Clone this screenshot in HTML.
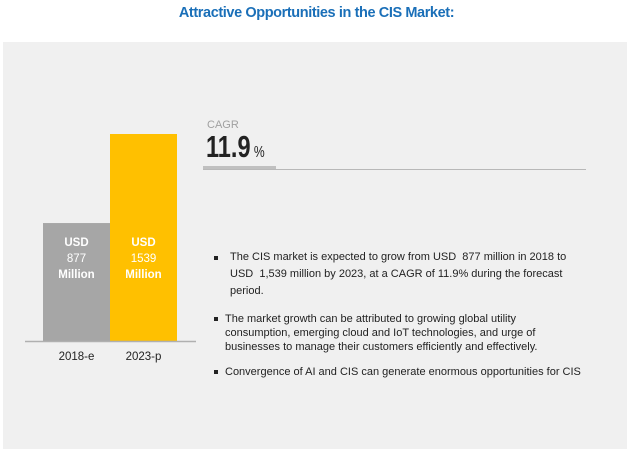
<!DOCTYPE html>
<html><head><meta charset="utf-8"><style>
body{margin:0;width:633px;height:454px;background:#fff;position:relative;overflow:hidden;font-family:"Liberation Sans",sans-serif}
.abs{position:absolute}
#panel{left:3px;top:42px;width:624px;height:407px;background:#f0f0f0}
#title{left:0;width:633px;top:5px;text-align:center;color:#1a6fb8;font-weight:bold;font-size:14.5px;letter-spacing:-0.4px}
.bl{position:absolute;font-size:11px;color:#222;line-height:17px}
.bl2{line-height:14px}
.sq{position:absolute;width:4px;height:4px;background:#222}
</style></head><body>
<div id="title" class="abs">Attractive Opportunities in the CIS Market:</div>
<div id="panel" class="abs"></div>
<svg class="abs" style="left:0;top:0" width="633" height="454" id="chart"></svg>
<div class="abs" style="left:207px;top:120px;font-size:11px;line-height:11px;color:#a0a0a0">CAGR</div>
<div class="abs" style="left:206px;top:131px;font-size:31px;line-height:31px;color:#222;font-weight:bold;transform:scaleX(0.76);transform-origin:left top;white-space:nowrap">11.9<span style="font-size:16px;font-weight:normal"> %</span></div>
<div class="abs" style="left:203px;top:166px;width:73px;height:4px;background:#c0c0c0"></div>
<div class="abs" style="left:203px;top:169px;width:383px;height:1px;background:#b8b8b8"></div>

<div class="sq" style="left:214px;top:256px"></div>
<div class="bl" style="left:230px;top:249px;width:380px">The CIS market is expected to grow from USD&nbsp; 877 million in 2018 to<br>USD&nbsp; 1,539 million by 2023, at a CAGR of 11.9% during the forecast<br>period.</div>
<div class="sq" style="left:214px;top:317px"></div>
<div class="bl bl2" style="left:225px;top:312px;width:390px">The market growth can be attributed to growing global utility<br>consumption, emerging cloud and IoT technologies, and urge of<br>businesses to manage their customers efficiently and effectively.</div>
<div class="sq" style="left:214px;top:370px"></div>
<div class="bl bl2" style="left:225px;top:365px;width:390px">Convergence of AI and CIS can generate enormous opportunities for CIS</div>
<script>
const categories=["2018-e","2023-p"];
const values=[877,1539];
const valueLabels=["877","1539"];
const colors=["#a6a6a6","#ffc000"];
const svg=document.getElementById('chart');
const NS="http://www.w3.org/2000/svg";
const baseY=341, pxPerUnit=207/1539, x0=43, bw=67;
function y(v){return baseY-v*pxPerUnit;}
function xb(i){return x0+i*bw;}
function mk(t,a){const e=document.createElementNS(NS,t);for(const k in a)e.setAttribute(k,a[k]);svg.appendChild(e);return e;}
values.forEach((v,i)=>{
  const r=mk('rect',{x:xb(i),y:y(v),width:bw,height:baseY-y(v),fill:colors[i]});
  
  
  ["USD",valueLabels[i],"Million"].forEach((s,j)=>{
    const t=mk('text',{x:xb(i)+bw/2,y:y(values[0])+23+j*16,'text-anchor':'middle',fill:'#fff','font-size':'11.5','font-weight':j==1?'normal':'bold','font-family':'Liberation Sans, sans-serif'});
    t.textContent=s;
    
    
  });
  const c=mk('text',{x:xb(i)+bw/2,y:360,'text-anchor':'middle',fill:'#222','font-size':'11.5','font-family':'Liberation Sans, sans-serif'});
  c.textContent=categories[i];
  
  
});
const ax=mk('line',{x1:25,x2:196,y1:baseY+0.5,y2:baseY+0.5,stroke:'#b0b0b0','stroke-width':1.5});


</script>
</body></html>
